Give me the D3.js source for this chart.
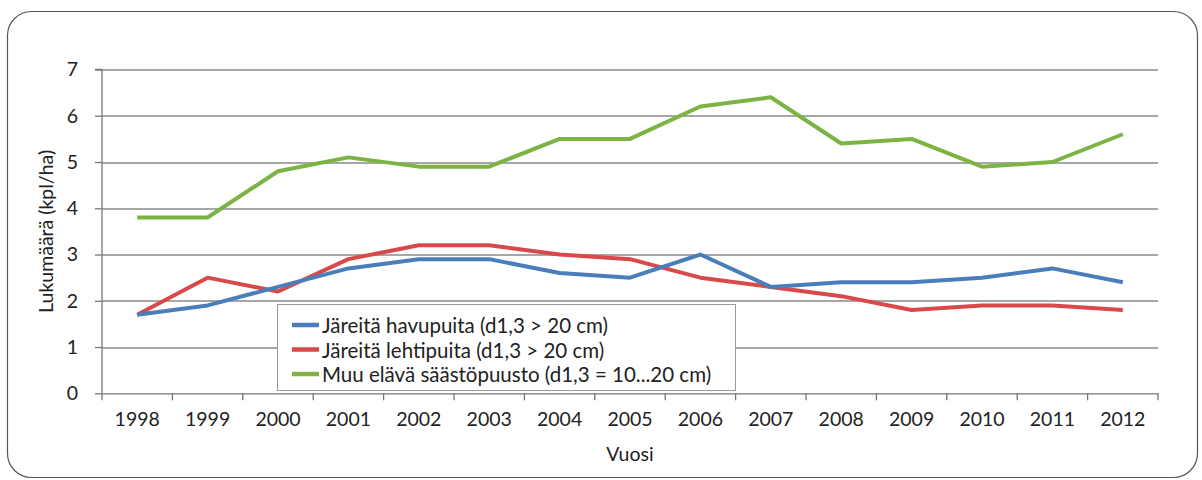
<!DOCTYPE html>
<html>
<head>
<meta charset="utf-8">
<script src="https://cdn.jsdelivr.net/npm/d3@7"></script>
<style>
  html, body { margin: 0; padding: 0; background: #fff; }
  svg text { font-family: Lato, "Open Sans", sans-serif; fill: #222; }
</style>
</head>
<body>
<div id="viz"></div>
<script>
const years = ['1998', '1999', '2000', '2001', '2002', '2003', '2004', '2005',
               '2006', '2007', '2008', '2009', '2010', '2011', '2012'];

const havupuut = [1.7, 1.9, 2.3, 2.7, 2.9, 2.9, 2.6, 2.5, 3.0, 2.3, 2.4, 2.4, 2.5, 2.7, 2.4];
const lehtipuut = [1.7, 2.5, 2.2, 2.9, 3.2, 3.2, 3.0, 2.9, 2.5, 2.3, 2.1, 1.8, 1.9, 1.9, 1.8];
const saastopuusto = [3.8, 3.8, 4.8, 5.1, 4.9, 4.9, 5.5, 5.5, 6.2, 6.4, 5.4, 5.5, 4.9, 5.0, 5.6];

const seriesNames = [
    'Järeitä havupuita (d1,3 > 20 cm)',
    'Järeitä lehtipuita (d1,3 > 20 cm)',
    'Muu elävä säästöpuusto (d1,3 = 10...20 cm)'
];
const seriesColors = ['#4a7ebb', '#d9494a', '#7bb443'];
const yTicks = [0, 1, 2, 3, 4, 5, 6, 7];

function buildChart(containerId) {
    const width = 1202;
    const height = 480;

    const margin = {
        top: 69.5,
        bottom: 86.7,
        right: 44,
        left: 102
    };

    const innerWidth = width - margin.left - margin.right;
    const innerHeight = height - margin.top - margin.bottom;

    const svg = d3.select(containerId)
                    .append('svg')
                    .attr('width', width)
                    .attr('height', height);

    // outer rounded frame
    svg.append('rect')
       .attr('x', 7.5)
       .attr('y', 11.5)
       .attr('width', 1190)
       .attr('height', 466)
       .attr('rx', 24)
       .attr('fill', '#fff')
       .attr('stroke', '#555')
       .attr('stroke-width', 1.2);

    const g = svg.append('g')
                .attr('transform', 'translate(' + margin.left + ',' + margin.top + ')');

    const x = d3.scaleBand()
                .domain(years)
                .range([0, innerWidth]);

    const y = d3.scaleLinear()
                .domain([0, 7])
                .range([innerHeight, 0]);

    // gridlines
    g.append('g')
     .attr('class', 'grid')
     .selectAll('line')
     .data(yTicks.filter(d => d > 0))
     .enter()
     .append('line')
     .attr('x1', 0)
     .attr('x2', innerWidth)
     .attr('y1', d => Math.round(y(d)) + 0.5)
     .attr('y2', d => Math.round(y(d)) + 0.5)
     .attr('stroke', '#8a8a8a')
     .attr('stroke-width', 1.3);

    const yAxis = d3.axisLeft(y)
                    .tickValues(yTicks)
                    .tickFormat(d3.format('d'))
                    .tickSize(7)
                    .tickPadding(17);

    const yG = g.append('g')
                .attr('class', 'y-axis')
                .call(yAxis);
    yG.select('.domain').attr('stroke', '#777').attr('stroke-width', 1.3).attr('d', 'M-7,' + y(7) + 'H0V' + innerHeight);
    yG.selectAll('.tick line').attr('stroke', '#777').attr('stroke-width', 1.3);
    yG.selectAll('.tick text').style('font-size', '19.5px').attr('fill', '#222');

    const xAxis = d3.axisBottom(x)
                    .tickSize(0)
                    .tickPadding(19);

    const xG = g.append('g')
                .attr('class', 'x-axis')
                .attr('transform', 'translate(0,' + innerHeight + ')')
                .call(xAxis);
    xG.select('.domain').attr('stroke', '#777').attr('stroke-width', 1.3);
    xG.selectAll('.tick text').style('font-size', '19.5px').attr('fill', '#222');

    // category boundary ticks
    xG.selectAll('.sep')
      .data(years.concat(['end']))
      .enter()
      .append('line')
      .attr('class', 'sep')
      .attr('x1', (d, i) => i < years.length ? x(d) : innerWidth)
      .attr('x2', (d, i) => i < years.length ? x(d) : innerWidth)
      .attr('y1', 0)
      .attr('y2', 7)
      .attr('stroke', '#777')
      .attr('stroke-width', 1.3);

    const line = d3.line()
                   .x((d, i) => x(years[i]) + x.bandwidth() / 2)
                   .y(d => y(d));

    const allSeries = [saastopuusto, lehtipuut, havupuut];
    const allColors = [seriesColors[2], seriesColors[1], seriesColors[0]];

    g.selectAll('.series')
     .data(allSeries)
     .enter()
     .append('path')
     .attr('class', 'series')
     .attr('d', d => line(d))
     .attr('fill', 'none')
     .attr('stroke', (d, i) => allColors[i])
     .attr('stroke-width', 4)
     .attr('stroke-linejoin', 'round');

    // legend
    const legend = svg.append('g')
                      .attr('transform', 'translate(277,304)');

    legend.append('rect')
          .attr('x', 0.5)
          .attr('y', 0.5)
          .attr('width', 458)
          .attr('height', 86)
          .attr('fill', '#fff')
          .attr('stroke', '#999')
          .attr('stroke-width', 1);

    const items = legend.selectAll('.item')
                        .data(seriesNames)
                        .enter()
                        .append('g')
                        .attr('class', 'item')
                        .attr('transform', (d, i) => 'translate(0,' + (21 + i * 24.5) + ')');

    items.append('line')
         .attr('x1', 15)
         .attr('x2', 42)
         .attr('y1', 0)
         .attr('y2', 0)
         .attr('stroke', (d, i) => seriesColors[i])
         .attr('stroke-width', 4.5);

    items.append('text')
         .attr('x', 45)
         .attr('y', 0)
         .attr('dominant-baseline', 'central')
         .style('font-size', '20.5px')
         .text(d => d);

    g.append('text')
     .attr('class', 'x-axis-label')
     .attr('x', innerWidth / 2)
     .attr('y', innerHeight + 68)
     .attr('text-anchor', 'middle')
     .style('font-size', '19.5px')
     .text('Vuosi');

    g.append('text')
     .attr('class', 'y-axis-label')
     .attr('transform', 'translate(-57,' + innerHeight / 2 + ') rotate(-90)')
     .attr('text-anchor', 'middle')
     .attr('dominant-baseline', 'central')
     .style('font-size', '19.5px')
     .text('Lukumäärä (kpl/ha)');
}

buildChart('#viz');
</script>
</body>
</html>
